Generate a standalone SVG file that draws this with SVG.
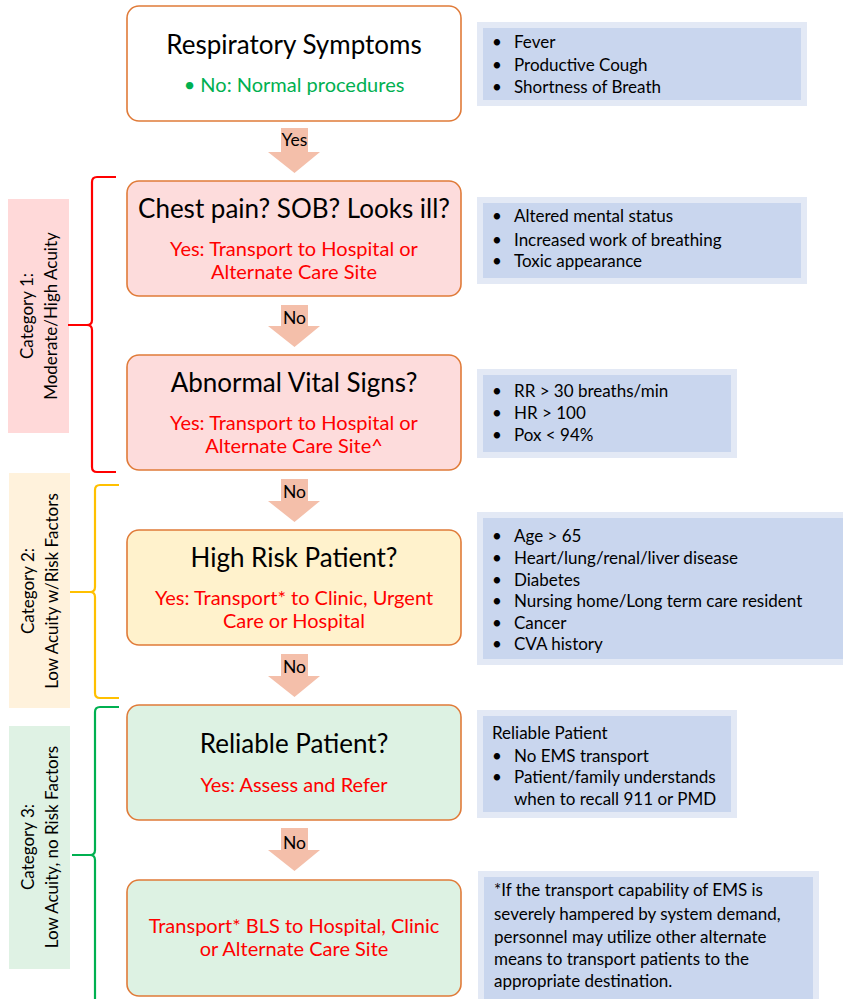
<svg xmlns="http://www.w3.org/2000/svg" width="843" height="999" viewBox="0 0 843 999">
<defs>
<style>
.box{stroke:#E07B39;stroke-width:1.6}
.title{font-family:Lato,"Liberation Sans",sans-serif;font-size:26px;fill:#000;text-anchor:middle}
.red{font-family:Lato,"Liberation Sans",sans-serif;font-size:20px;fill:#FF0000;text-anchor:middle}
.green{font-family:Lato,"Liberation Sans",sans-serif;font-size:20px;fill:#00B050;text-anchor:middle}
.info{font-family:Lato,"Liberation Sans",sans-serif;font-size:17px;fill:#000}
.cat{font-family:Lato,"Liberation Sans",sans-serif;font-size:17px;fill:#000;text-anchor:middle}
.lbl{font-family:Lato,"Liberation Sans",sans-serif;font-size:17.5px;fill:#000;text-anchor:middle}
.infobg{fill:#C9D6EE;stroke:#E3E9F5;stroke-width:6}
.arrow{fill:#F4BFAA}
.brace{fill:none;stroke-width:2.2;stroke-linejoin:round}
</style>
</defs>
<rect width="843" height="999" fill="#fff"/>

<g id="connectors">
<polygon class="arrow" points="281,128 308,128 308,152 320,152 294.5,173 268,152 281,152"/>
<text class="lbl" x="294.5" y="146">Yes</text>
<polygon class="arrow" points="281,305 308,305 308,326 320,326 294.5,347 268,326 281,326"/>
<text class="lbl" x="294.5" y="324">No</text>
<polygon class="arrow" points="281,479 308,479 308,501 320,501 294.5,522 268,501 281,501"/>
<text class="lbl" x="294.5" y="498">No</text>
<polygon class="arrow" points="281,654 308,654 308,676 320,676 294.5,697 268,676 281,676"/>
<text class="lbl" x="294.5" y="673">No</text>
<polygon class="arrow" points="281,828 308,828 308,850 320,850 294.5,871 268,850 281,850"/>
<text class="lbl" x="294.5" y="849">No</text>
</g>

<g id="node-respiratory">
<rect class="box" x="127" y="6" width="334" height="115" rx="12" fill="#FFFFFF"/>
<text class="title" x="294" y="54">Respiratory Symptoms</text>
<text class="green" x="294" y="92">• No: Normal procedures</text>
</g>
<g id="node-chest">
<rect class="box" x="127" y="181" width="334" height="115" rx="12" fill="#FDDCDC"/>
<text class="title" x="294" y="218">Chest pain? SOB? Looks ill?</text>
<text class="red" x="294" y="256">Yes: Transport to Hospital or</text>
<text class="red" x="294" y="279">Alternate Care Site</text>
</g>
<g id="node-vitals">
<rect class="box" x="127" y="355" width="334" height="115" rx="12" fill="#FDDCDC"/>
<text class="title" x="294" y="392">Abnormal Vital Signs?</text>
<text class="red" x="294" y="430">Yes: Transport to Hospital or</text>
<text class="red" x="294" y="453">Alternate Care Site^</text>
</g>
<g id="node-highrisk">
<rect class="box" x="127" y="530" width="334" height="115" rx="12" fill="#FFF2CC"/>
<text class="title" x="294" y="567">High Risk Patient?</text>
<text class="red" x="294" y="605">Yes: Transport* to Clinic, Urgent</text>
<text class="red" x="294" y="628">Care or Hospital</text>
</g>
<g id="node-reliable">
<rect class="box" x="127" y="705" width="334" height="115" rx="12" fill="#DDF2E3"/>
<text class="title" x="294" y="753">Reliable Patient?</text>
<text class="red" x="294" y="792">Yes: Assess and Refer</text>
</g>
<g id="node-transport">
<rect class="box" x="127" y="880" width="334" height="116" rx="12" fill="#DDF2E3"/>
<text class="red" x="294" y="933">Transport* BLS to Hospital, Clinic</text>
<text class="red" x="294" y="956">or Alternate Care Site</text>
</g>

<g id="info-1">
<rect class="infobg" x="480" y="25" width="324" height="78"/>
<text class="info"><tspan x="492" y="48">•</tspan><tspan x="514" y="48">Fever</tspan><tspan x="492" y="71">•</tspan><tspan x="514" y="71">Productive Cough</tspan><tspan x="492" y="93">•</tspan><tspan x="514" y="93">Shortness of Breath</tspan></text>
</g>
<g id="info-2">
<rect class="infobg" x="480" y="200" width="324" height="81"/>
<text class="info"><tspan x="492" y="222">•</tspan><tspan x="514" y="222">Altered mental status</tspan><tspan x="492" y="246">•</tspan><tspan x="514" y="246">Increased work of breathing</tspan><tspan x="492" y="267">•</tspan><tspan x="514" y="267">Toxic appearance</tspan></text>
</g>
<g id="info-3">
<rect class="infobg" x="480" y="372" width="254" height="83"/>
<text class="info"><tspan x="492" y="397">•</tspan><tspan x="514" y="397">RR &gt; 30 breaths/min</tspan><tspan x="492" y="419">•</tspan><tspan x="514" y="419">HR &gt; 100</tspan><tspan x="492" y="441">•</tspan><tspan x="514" y="441">Pox &lt; 94%</tspan></text>
</g>
<g id="info-4">
<rect class="infobg" x="480" y="515" width="366" height="147"/>
<text class="info"><tspan x="492" y="542">•</tspan><tspan x="514" y="542">Age &gt; 65</tspan><tspan x="492" y="564">•</tspan><tspan x="514" y="564">Heart/lung/renal/liver disease</tspan><tspan x="492" y="586">•</tspan><tspan x="514" y="586">Diabetes</tspan><tspan x="492" y="607">•</tspan><tspan x="514" y="607">Nursing home/Long term care resident</tspan><tspan x="492" y="629">•</tspan><tspan x="514" y="629">Cancer</tspan><tspan x="492" y="650">•</tspan><tspan x="514" y="650">CVA history</tspan></text>
</g>
<g id="info-5">
<rect class="infobg" x="480" y="713" width="254" height="102"/>
<text class="info"><tspan x="492" y="739">Reliable Patient</tspan><tspan x="492" y="762">•</tspan><tspan x="514" y="762">No EMS transport</tspan><tspan x="492" y="783">•</tspan><tspan x="514" y="783">Patient/family understands</tspan><tspan x="514" y="805">when to recall 911 or PMD</tspan></text>
</g>
<g id="info-6">
<rect class="infobg" x="481" y="874" width="335" height="128"/>
<text class="info"><tspan x="494" y="896">*If the transport capability of EMS is</tspan><tspan x="494" y="920">severely hampered by system demand,</tspan><tspan x="494" y="943">personnel may utilize other alternate</tspan><tspan x="494" y="965">means to transport patients to the</tspan><tspan x="494" y="987">appropriate destination.</tspan></text>
</g>

<g id="category-1">
<rect x="8" y="199" width="61" height="234" fill="#FFD9D9"/>
<text class="cat" transform="translate(33,316) rotate(-90)"><tspan x="0" y="0">Category 1:</tspan><tspan x="0" y="24">Moderate/High Acuity</tspan></text>
<path class="brace" stroke="#FF0000" d="M116,177 L97,177 Q92,177 92,182 L92,320 Q92,325 87,325 L68,325 M87,325 Q92,325 92,330 L92,467 Q92,472 97,472 L116,472"/>
</g>
<g id="category-2">
<rect x="9" y="473" width="61" height="235" fill="#FFF2DC"/>
<text class="cat" transform="translate(34,591) rotate(-90)"><tspan x="0" y="0">Category 2:</tspan><tspan x="0" y="24">Low Acuity w/Risk Factors</tspan></text>
<path class="brace" stroke="#FFC000" d="M119,485 L100,485 Q95,485 95,490 L95,587 Q95,592 90,592 L70,592 M90,592 Q95,592 95,597 L95,693 Q95,698 100,698 L119,698"/>
</g>
<g id="category-3">
<rect x="9" y="726" width="61" height="243" fill="#DFF2E4"/>
<text class="cat" transform="translate(34,847) rotate(-90)"><tspan x="0" y="0">Category 3:</tspan><tspan x="0" y="24">Low Acuity, no Risk Factors</tspan></text>
<path class="brace" stroke="#00B050" d="M119,707 L100,707 Q95,707 95,712 L95,850 Q95,855 90,855 L72,855 M90,855 Q95,855 95,860 L95,1005"/>
</g>
</svg>
